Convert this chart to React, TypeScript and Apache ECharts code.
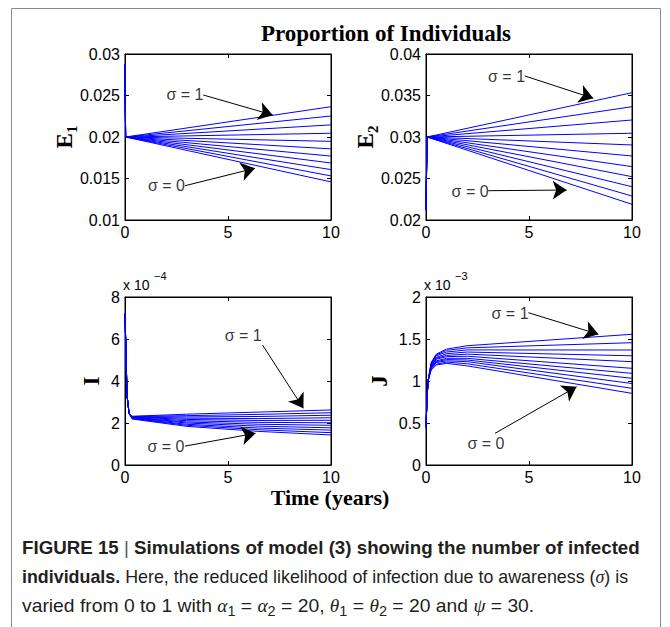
import React, { useEffect, useRef } from "react";
import * as echarts from "echarts";

// sigma levels, top line (1) to bottom line (0)
const sigmaLevels = [1, 0.9, 0.8, 0.7, 0.6, 0.5, 0.4, 0.3, 0.2, 0.1, 0];

const timeTicks = [0, 5, 10];

// E1 panel
const e1Ticks = [0.01, 0.015, 0.02, 0.025, 0.03];
const e1Times = [0, 0.03, 10];
const e1Shared = [0.0288, 0.02];
const e1End = [0.02365, 0.02253, 0.02146, 0.02045, 0.01948, 0.01857, 0.0177, 0.01687, 0.01607, 0.01531, 0.01459];

// E2 panel
const e2Ticks = [0.02, 0.025, 0.03, 0.035, 0.04];
const e2Times = [0, 0.05, 10];
const e2Shared = [0.0212, 0.03];
const e2End = [0.03534, 0.03365, 0.03205, 0.03045, 0.02904, 0.02771, 0.02643, 0.02522, 0.02401, 0.02289, 0.02189];

// I panel (x 10^-4)
const iTicks = [0, 2, 4, 6, 8];
const iHeadTimes = [0, 0.1, 0.2];
const iHead = [7.2, 3.3, 2.45];
const iTailTimes = [0.35, 3, 6.5, 10];
const iTail = [
  [2.32, 2.42, 2.52, 2.62],
  [2.31, 2.35, 2.41, 2.49],
  [2.3, 2.29, 2.31, 2.37],
  [2.29, 2.23, 2.21, 2.25],
  [2.28, 2.17, 2.12, 2.13],
  [2.26, 2.11, 2.03, 2.01],
  [2.25, 2.05, 1.94, 1.89],
  [2.24, 2.0, 1.85, 1.77],
  [2.22, 1.94, 1.76, 1.66],
  [2.21, 1.89, 1.68, 1.54],
  [2.19, 1.84, 1.6, 1.43],
];

// J panel (x 10^-3)
const jTicks = [0, 0.5, 1, 1.5, 2];
const jHeadTimes = [0, 0.05, 0.1];
const jHead = [0.45, 0.79, 1.0];
const jTailTimes = [0.25, 0.5, 1, 2, 10];
const jTail = [
  [1.22, 1.32, 1.38, 1.42, 1.556],
  [1.21, 1.31, 1.365, 1.395, 1.456],
  [1.2, 1.3, 1.345, 1.37, 1.369],
  [1.19, 1.28, 1.325, 1.345, 1.3],
  [1.18, 1.27, 1.305, 1.32, 1.23],
  [1.17, 1.26, 1.29, 1.295, 1.151],
  [1.16, 1.24, 1.27, 1.27, 1.091],
  [1.16, 1.23, 1.255, 1.25, 1.032],
  [1.15, 1.22, 1.24, 1.23, 0.97],
  [1.14, 1.2, 1.225, 1.205, 0.913],
  [1.13, 1.19, 1.21, 1.18, 0.853],
];

// annotations (data coordinates)
const e1Notes = [
  { label: "σ = 1", text: [2.91, 0.02518], from: [3.8, 0.02506], to: [7.17, 0.02265] },
  { label: "σ = 0", text: [2.01, 0.01413], from: [2.91, 0.01413], to: [6.31, 0.01623] },
];
const e2Notes = [
  { label: "σ = 1", text: [3.91, 0.03727], from: [4.8, 0.03735], to: [8.12, 0.03466] },
  { label: "σ = 0", text: [2.14, 0.02341], from: [3.02, 0.02353], to: [6.83, 0.02361] },
];
const iNotes = [
  { label: "σ = 1", text: [5.74, 6.19], from: [6.68, 5.71], to: [8.66, 2.7] },
  { label: "σ = 0", text: [1.99, 0.9], from: [2.91, 0.9], to: [6.34, 1.51] },
];
const jNotes = [
  { label: "σ = 1", text: [4.08, 1.806], from: [4.97, 1.813], to: [8.37, 1.556] },
  { label: "σ = 0", text: [2.91, 0.258], from: [3.35, 0.377], to: [7.31, 0.932] },
];

const curve = (times: number[], vals: number[]) => times.map((t, i) => [t, vals[i]]);

const e1Lines = sigmaLevels.map((_, k) => curve(e1Times, [...e1Shared, e1End[k]]));
const e2Lines = sigmaLevels.map((_, k) => curve(e2Times, [...e2Shared, e2End[k]]));
const iLines = sigmaLevels.map((_, k) => curve([...iHeadTimes, ...iTailTimes], [...iHead, ...iTail[k]]));
const jLines = sigmaLevels.map((_, k) => curve([...jHeadTimes, ...jTailTimes], [...jHead, ...jTail[k]]));

const grids = [
  { left: 125, top: 54, width: 206, height: 166 },
  { left: 426, top: 54, width: 206, height: 166 },
  { left: 125, top: 297, width: 206, height: 168 },
  { left: 426, top: 297, width: 206, height: 168 },
];

const panels = [
  { ticks: e1Ticks, lines: e1Lines, notes: e1Notes },
  { ticks: e2Ticks, lines: e2Lines, notes: e2Notes },
  { ticks: iTicks, lines: iLines, notes: iNotes },
  { ticks: jTicks, lines: jLines, notes: jNotes },
];

const SANS = "'Liberation Sans', Arial, sans-serif";
const SERIF = "'Liberation Serif', 'Times New Roman', serif";

function buildOption() {
  const xAxis: any[] = [];
  const yAxis: any[] = [];
  const series: any[] = [];
  const tick = { show: true, inside: true, length: 4, lineStyle: { color: "#000", width: 1 } };
  const line = { show: true, onZero: false, lineStyle: { color: "#000", width: 1 } };
  panels.forEach((p, g) => {
    const xStep = +(timeTicks[1] - timeTicks[0]).toFixed(6);
    const yStep = +(p.ticks[1] - p.ticks[0]).toFixed(6);
    const xBase = {
      gridIndex: g,
      type: "value",
      min: timeTicks[0],
      max: timeTicks[timeTicks.length - 1],
      interval: xStep,
      axisLine: line,
      axisTick: tick,
      splitLine: { show: false },
    };
    xAxis.push({
      ...xBase,
      position: "bottom",
      axisLabel: { color: "#000", fontSize: 16, fontFamily: SANS, margin: 4 },
    });
    xAxis.push({ ...xBase, position: "top", axisLabel: { show: false } });
    const yBase = {
      gridIndex: g,
      type: "value",
      min: p.ticks[0],
      max: p.ticks[p.ticks.length - 1],
      interval: yStep,
      axisLine: line,
      axisTick: tick,
      splitLine: { show: false },
    };
    yAxis.push({
      ...yBase,
      position: "left",
      axisLabel: {
        color: "#000",
        fontSize: 16,
        fontFamily: SANS,
        margin: 5,
        formatter: (v: number) => String(parseFloat(v.toFixed(4))),
      },
    });
    yAxis.push({ ...yBase, position: "right", axisLabel: { show: false } });

    p.lines.forEach((d, k) => {
      series.push({
        type: "line",
        name: `σ=${sigmaLevels[k]} #${g}`,
        xAxisIndex: 2 * g,
        yAxisIndex: 2 * g,
        data: d,
        showSymbol: false,
        symbol: "none",
        silent: true,
        lineStyle: { color: "#0000ff", width: 1 },
        z: 2,
      });
    });
    series.push({
      type: "lines",
      coordinateSystem: "cartesian2d",
      xAxisIndex: 2 * g,
      yAxisIndex: 2 * g,
      symbol: ["none", "arrow"],
      symbolSize: 14,
      silent: true,
      lineStyle: { color: "#000", width: 1, opacity: 1 },
      data: p.notes.map((n) => ({ coords: [n.from, n.to] })),
      z: 5,
    });
    series.push({
      type: "scatter",
      xAxisIndex: 2 * g,
      yAxisIndex: 2 * g,
      symbolSize: 1,
      silent: true,
      itemStyle: { color: "transparent" },
      label: {
        show: true,
        position: "inside",
        formatter: "{b}",
        color: "#000",
        fontSize: 16,
        fontFamily: SANS,
      },
      data: p.notes.map((n) => ({ name: n.label, value: n.text })),
      z: 6,
    });
  });

  const nameStyle = { fontSize: 23, fontWeight: "bold", fontFamily: SERIF, fill: "#000" };
  const subRich = (idx: string) => ({
    text: `{a|E}{b|${idx}}`,
    align: "center",
    verticalAlign: "middle",
    rich: {
      a: { fontSize: 23, fontWeight: "bold", fontFamily: SERIF, lineHeight: 22, color: "#000" },
      b: { fontSize: 15, fontWeight: "bold", fontFamily: SERIF, lineHeight: 30, verticalAlign: "bottom", color: "#000" },
    },
  });
  const graphic: any[] = [
    {
      type: "rect",
      shape: { x: 11.5, y: 8.5, width: 649, height: 700 },
      style: { fill: "none", stroke: "#8a8a8a", lineWidth: 1 },
      silent: true,
    },
    {
      type: "text",
      x: 386,
      y: 33,
      style: { text: "Proportion of Individuals", ...nameStyle, align: "center", verticalAlign: "middle" },
    },
    {
      type: "text",
      x: 330,
      y: 497,
      style: { text: "Time (years)", ...nameStyle, fontSize: 22, align: "center", verticalAlign: "middle" },
    },
    { type: "text", x: 64, y: 137, rotation: Math.PI / 2, style: subRich("1") },
    { type: "text", x: 365, y: 137, rotation: Math.PI / 2, style: subRich("2") },
    {
      type: "text",
      x: 91,
      y: 381,
      rotation: Math.PI / 2,
      style: { text: "I", ...nameStyle, align: "center", verticalAlign: "middle" },
    },
    {
      type: "text",
      x: 379,
      y: 381,
      rotation: Math.PI / 2,
      style: { text: "J", ...nameStyle, align: "center", verticalAlign: "middle" },
    },
    { type: "text", x: 123, y: 285, style: { text: "x 10", fontSize: 14, fontFamily: SANS, fill: "#000", verticalAlign: "middle" } },
    { type: "text", x: 154, y: 276, style: { text: "−4", fontSize: 11, fontFamily: SANS, fill: "#000", verticalAlign: "middle" } },
    { type: "text", x: 424, y: 285, style: { text: "x 10", fontSize: 14, fontFamily: SANS, fill: "#000", verticalAlign: "middle" } },
    { type: "text", x: 455, y: 276, style: { text: "−3", fontSize: 11, fontFamily: SANS, fill: "#000", verticalAlign: "middle" } },
  ];

  return {
    animation: false,
    backgroundColor: "#fff",
    grid: grids.map((g) => ({ ...g, show: true, borderColor: "#000", borderWidth: 1, backgroundColor: "transparent" })),
    xAxis,
    yAxis,
    series,
    graphic,
  };
}

const mathStyle: React.CSSProperties = { fontFamily: SERIF, fontStyle: "italic" };
const subStyle: React.CSSProperties = { fontSize: "0.75em", verticalAlign: "-0.25em", lineHeight: 0 };
const captionTargets = [618, 606, 512];

export default function App() {
  const chartRef = useRef<HTMLDivElement>(null);
  const lineRefs = [useRef<HTMLSpanElement>(null), useRef<HTMLSpanElement>(null), useRef<HTMLSpanElement>(null)];

  useEffect(() => {
    if (!chartRef.current) return;
    const chart = echarts.init(chartRef.current, undefined, { renderer: "svg" });
    chart.setOption(buildOption() as any);
    lineRefs.forEach((r, i) => {
      const el = r.current;
      if (!el) return;
      const w = el.offsetWidth;
      if (w > 0) el.style.transform = `scaleX(${captionTargets[i] / w})`;
    });
    return () => chart.dispose();
  }, []);

  const lineBox = (top: number): React.CSSProperties => ({
    position: "absolute",
    left: 22,
    top,
    whiteSpace: "nowrap",
    display: "inline-block",
    transformOrigin: "0 50%",
    lineHeight: "24px",
  });

  return (
    <div style={{ position: "fixed", left: 0, top: 0, width: 670, height: 627, background: "#fff", overflow: "hidden" }}>
      <div ref={chartRef} style={{ position: "absolute", left: 0, top: 0, width: 670, height: 627 }} />
      <div style={{ position: "absolute", left: 0, top: 0, fontFamily: SANS, fontSize: 19, color: "#231f20" }}>
        <span ref={lineRefs[0]} style={{ ...lineBox(536), fontWeight: "bold" }}>
          FIGURE 15 <span style={{ fontWeight: "normal", color: "#555" }}>|</span> Simulations of model (3) showing the number of infected
        </span>
        <span ref={lineRefs[1]} style={lineBox(565)}>
          <b>individuals.</b> Here, the reduced likelihood of infection due to awareness (<span style={mathStyle}>σ</span>) is
        </span>
        <span ref={lineRefs[2]} style={lineBox(594)}>
          varied from 0 to 1 with <span style={mathStyle}>α</span>
          <span style={subStyle}>1</span> = <span style={mathStyle}>α</span>
          <span style={subStyle}>2</span> = 20, <span style={mathStyle}>θ</span>
          <span style={subStyle}>1</span> = <span style={mathStyle}>θ</span>
          <span style={subStyle}>2</span> = 20 and <span style={mathStyle}>ψ</span> = 30.
        </span>
      </div>
    </div>
  );
}
